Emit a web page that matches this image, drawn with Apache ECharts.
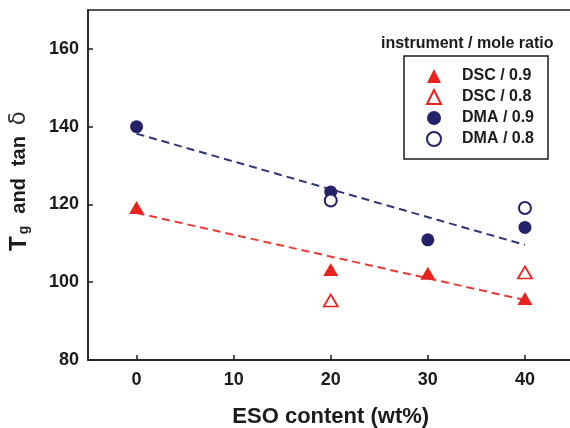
<!DOCTYPE html>
<html>
<head>
<meta charset="utf-8">
<script src="https://cdn.jsdelivr.net/npm/echarts@6/dist/echarts.min.js"></script>
<style>
  html, body { margin: 0; padding: 0; background: #fff; }
  #chart { width: 570px; height: 428px; }
</style>
</head>
<body>
<div id="chart"></div>
<script>
// Glass transition temperature vs. ESO content
const xTicks = [0, 10, 20, 30, 40];
const yTicks = [80, 100, 120, 140, 160];

const dsc09 = [[0, 119.2], [20, 103.3], [30, 102.3], [40, 95.8]];
const dsc08 = [[20, 95.3], [40, 102.5]];
const dma09 = [[0, 140.0], [20, 123.2], [30, 110.9], [40, 114.1]];
const dma08 = [[20, 121.0], [40, 119.1]];

// linear trend lines (end points)
const dscFit = [[0, 117.8], [40, 95.4]];
const dmaFit = [[0, 138.2], [40, 109.6]];

const RED = '#e8231f';
const RED_LINE = '#ea3b36';
const NAVY = '#25226a';
const NAVY_LINE = '#34347c';
const INK = '#1b1b1b';
const FONT = '"Liberation Sans", Arial, sans-serif';

const chart = echarts.init(document.getElementById('chart'), null, { renderer: 'canvas' });

chart.setOption({
  animation: false,
  backgroundColor: '#ffffff',
  textStyle: { fontFamily: FONT },
  title: {
    text: 'instrument / mole ratio',
    left: 376,
    top: 31,
    textStyle: { fontFamily: FONT, fontSize: 16, fontWeight: 'bold', color: INK }
  },
  legend: {
    data: ['DSC / 0.9', 'DSC / 0.8', 'DMA / 0.9', 'DMA / 0.8'],
    orient: 'vertical',
    left: 404,
    top: 56,
    padding: [12, 14, 12, 22],
    itemWidth: 14,
    itemHeight: 14,
    itemGap: 5,
    borderColor: INK,
    borderWidth: 1.5,
    textStyle: {
      fontFamily: FONT, fontSize: 16, fontWeight: 'bold', color: INK,
      lineHeight: 16, padding: [0, 0, 0, 16]
    }
  },
  grid: {
    left: 88, top: 10, bottom: 68, right: -3.5,
    outerBoundsMode: 'none',
    containLabel: false,
    show: true, borderColor: INK, borderWidth: 1.5, backgroundColor: 'transparent'
  },
  xAxis: {
    type: 'value',
    min: -5, max: 45,
    name: 'ESO content (wt%)',
    nameLocation: 'middle',
    nameGap: 46,
    nameTextStyle: { fontFamily: FONT, fontSize: 22, fontWeight: 'bold', color: INK },
    axisLine: { onZero: false, lineStyle: { color: INK, width: 1.5 } },
    axisTick: { inside: true, length: 5, lineStyle: { color: INK, width: 1.5 }, customValues: xTicks },
    axisLabel: { customValues: xTicks, margin: 11, fontFamily: FONT, fontSize: 18, fontWeight: 'bold', color: INK },
    splitLine: { show: false }
  },
  yAxis: {
    type: 'value',
    min: 80, max: 170,
    name: '{t|T}{g|g}{w|and}{w|tan}{d|δ}',
    nameLocation: 'middle',
    nameGap: 57,
    nameRotate: 90,
    nameTextStyle: {
      padding: [0, 0, 0, 8],
      rich: {
        t: { fontFamily: FONT, fontSize: 24, fontWeight: 'bold', color: INK },
        g: { fontFamily: FONT, fontSize: 14, fontWeight: 'bold', color: INK, verticalAlign: 'bottom', padding: [9, 0, 0, 2] },
        w: { fontFamily: FONT, fontSize: 20, fontWeight: 'bold', color: INK, padding: [0, 0, 0, 12] },
        d: { fontFamily: '"DejaVu Sans", sans-serif', fontSize: 23, fontWeight: 'normal', color: '#333', padding: [0, 0, 0, 11] }
      }
    },
    axisLine: { onZero: false, lineStyle: { color: INK, width: 1.5 } },
    axisTick: { inside: true, length: 5, lineStyle: { color: INK, width: 1.5 }, customValues: yTicks },
    axisLabel: { customValues: yTicks, margin: 9, fontFamily: FONT, fontSize: 18, fontWeight: 'bold', color: INK },
    splitLine: { show: false }
  },
  series: [
    {
      name: 'DSC fit', type: 'line', data: dscFit, symbol: 'none', silent: true,
      lineStyle: { color: RED_LINE, width: 2, type: [8, 5] }, z: 1
    },
    {
      name: 'DMA fit', type: 'line', data: dmaFit, symbol: 'none', silent: true,
      lineStyle: { color: NAVY_LINE, width: 2, type: [8, 5] }, z: 1
    },
    {
      name: 'DSC / 0.9', type: 'scatter', data: dsc09, symbol: 'triangle', symbolSize: [15, 13],
      itemStyle: { color: RED, opacity: 1 }, z: 3
    },
    {
      name: 'DSC / 0.8', type: 'scatter', data: dsc08, symbol: 'triangle', symbolSize: [14, 12],
      itemStyle: { color: '#ffffff', borderColor: RED, borderWidth: 1.8, opacity: 1 }, z: 3
    },
    {
      name: 'DMA / 0.9', type: 'scatter', data: dma09, symbol: 'circle', symbolSize: 13,
      itemStyle: { color: NAVY, opacity: 1 }, z: 3
    },
    {
      name: 'DMA / 0.8', type: 'scatter', data: dma08, symbol: 'circle', symbolSize: 12,
      itemStyle: { color: '#ffffff', borderColor: NAVY, borderWidth: 2, opacity: 1 }, z: 3
    }
  ]
});
</script>
</body>
</html>
